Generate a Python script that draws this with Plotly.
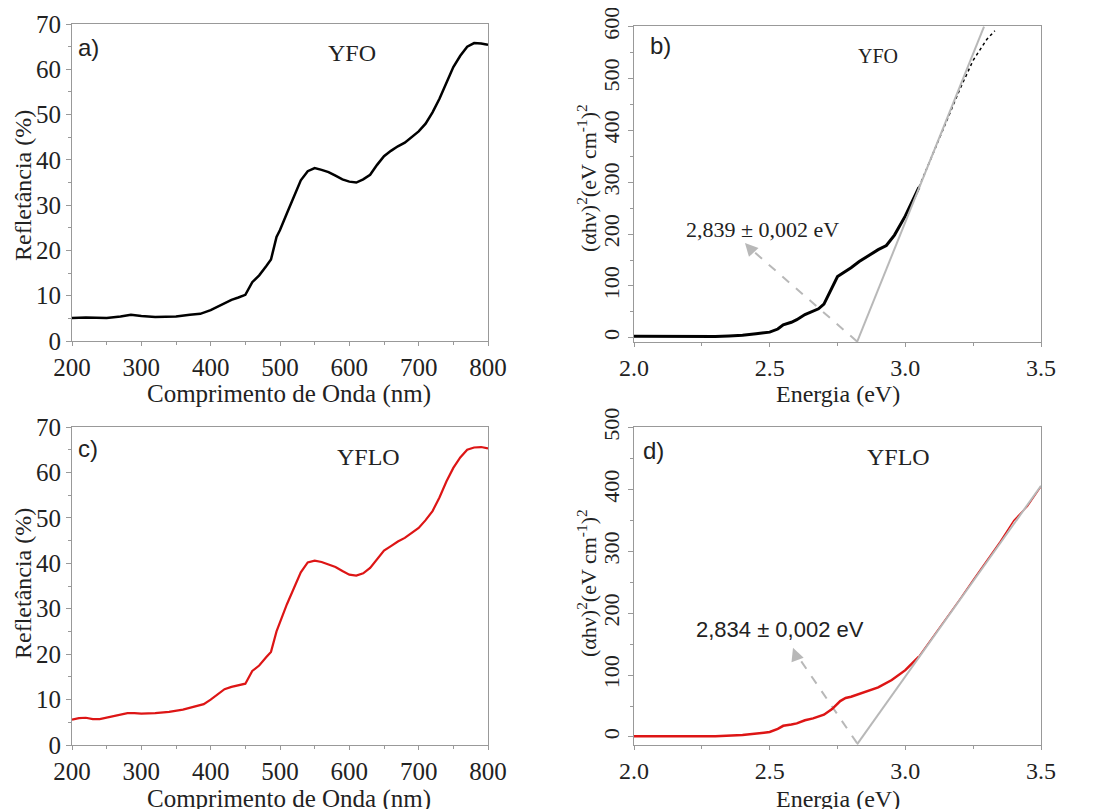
import plotly.graph_objects as go

# a) YFO reflectance
wl_yfo = [200, 220, 250, 270, 285, 300, 320, 350, 370, 385, 400, 420, 430, 440, 450, 460, 470,
          480, 487, 495, 500, 510, 520, 530, 540, 550, 560, 570, 580, 590, 600, 610, 620, 630,
          640, 650, 660, 670, 680, 690, 700, 710, 720, 730, 740, 750, 760, 770, 780, 790, 800]
refl_yfo = [5.1, 5.2, 5.1, 5.4, 5.8, 5.5, 5.3, 5.4, 5.8, 6.0, 6.8, 8.3, 9.1, 9.6, 10.2, 13.0, 14.5,
            16.5, 18.0, 23.0, 24.5, 28.2, 32.0, 35.5, 37.5, 38.2, 37.8, 37.3, 36.5, 35.7, 35.2, 35.0,
            35.7, 36.7, 38.9, 40.8, 42.0, 43.0, 43.8, 45.0, 46.3, 48.0, 50.5, 53.5, 57.0, 60.5, 63.0,
            65.0, 65.8, 65.7, 65.4]

# c) YFLO reflectance
wl_yflo = [200, 210, 220, 230, 240, 250, 260, 270, 280, 290, 300, 320, 340, 360, 380, 390, 400,
           410, 420, 430, 440, 450, 460, 470, 480, 487, 495, 500, 510, 520, 530, 540, 550, 560,
           570, 580, 590, 600, 610, 620, 630, 640, 650, 660, 670, 680, 690, 700, 710, 720, 730,
           740, 750, 760, 770, 780, 790, 800]
refl_yflo = [5.6, 5.9, 6.0, 5.7, 5.7, 6.0, 6.3, 6.7, 7.0, 7.0, 6.9, 7.0, 7.3, 7.8, 8.5, 9.0, 10.0,
             11.2, 12.3, 12.8, 13.1, 13.5, 16.3, 17.5, 19.3, 20.5, 25.0, 27.0, 31.0, 34.5, 38.0,
             40.2, 40.6, 40.3, 39.8, 39.2, 38.3, 37.5, 37.3, 37.8, 39.0, 41.0, 42.8, 43.8, 44.8,
             45.6, 46.6, 47.8, 49.5, 51.5, 54.5, 58.0, 61.0, 63.3, 65.0, 65.5, 65.6, 65.3]

# b) YFO Tauc plot (dense part, then the sparse top that sits on the fit)
en_yfo = [2.0, 2.1, 2.2, 2.3, 2.35, 2.4, 2.45, 2.5, 2.53, 2.55, 2.58, 2.6, 2.63, 2.65, 2.68, 2.7,
          2.72, 2.74, 2.75, 2.77, 2.8, 2.83, 2.86, 2.9, 2.93, 2.96, 3.0, 3.05]
tauc_yfo = [3, 3, 2, 2.5, 3.5, 5, 8, 11, 17, 25, 30, 35, 45, 50, 56, 65, 85, 105, 118, 125, 135,
            147, 157, 170, 178, 198, 235, 290]
en_yfo_top = [3.05, 3.1, 3.15, 3.2, 3.25, 3.28, 3.3, 3.33]
tauc_yfo_top = [290, 352, 415, 478, 535, 558, 575, 592]
fit_yfo_en = [2.822, 3.29]
fit_yfo_val = [-8, 600]
arrow_yfo_en = [2.822, 2.42]
arrow_yfo_val = [-7, 176]

# d) YFLO Tauc plot
en_yflo = [2.0, 2.2, 2.3, 2.4, 2.45, 2.5, 2.53, 2.55, 2.58, 2.6, 2.63, 2.66, 2.7, 2.73, 2.76,
           2.78, 2.8, 2.85, 2.9, 2.95, 3.0, 3.05]
tauc_yflo = [1, 0.5, 1, 3, 5, 8, 13, 18, 20, 22, 27, 30, 36, 45, 58, 63, 65, 72, 80, 92, 108, 130]
en_yflo_top = [3.05, 3.1, 3.15, 3.2, 3.25, 3.3, 3.35, 3.4, 3.45, 3.5]
tauc_yflo_top = [130, 160, 192, 222, 254, 285, 316, 350, 373, 405]
fit_yflo_en = [2.822, 3.5]
fit_yflo_val = [-12, 406]
arrow_yflo_en = [2.822, 2.592]
arrow_yflo_val = [-10, 138]

SERIF = "Liberation Serif"
SANS = "Liberation Sans"
INK = "#222222"
FRAME = "#999999"
RED = "#dd1515"
GREY = "#b8b8b8"

# the page puts the figure 8px in from the window corner
W, H, OFF = 1085, 801, 8


def px(x, y):
    return (x - OFF) / W, 1 - (y - OFF) / H


def line(x, y, ax, color, width, dash="solid"):
    return go.Scatter(x=x, y=y, mode="lines", line=dict(color=color, width=width, dash=dash),
                      xaxis="x" + ax, yaxis="y" + ax)


fig = go.Figure()
fig.add_trace(line(wl_yfo, refl_yfo, "", "black", 2.5))
fig.add_trace(line(arrow_yfo_en, arrow_yfo_val, "2", GREY, 2, "dash"))
fig.add_trace(line(en_yfo, tauc_yfo, "2", "black", 3))
fig.add_trace(line(en_yfo_top, tauc_yfo_top, "2", "black", 1.5, "dot"))
fig.add_trace(line(fit_yfo_en, fit_yfo_val, "2", GREY, 2))
fig.add_trace(line(wl_yflo, refl_yflo, "3", RED, 2.2))
fig.add_trace(line(arrow_yflo_en, arrow_yflo_val, "4", GREY, 2, "dash"))
fig.add_trace(line(en_yflo, tauc_yflo, "4", RED, 2.5))
fig.add_trace(line(en_yflo_top, tauc_yflo_top, "4", RED, 1.5))
fig.add_trace(line(fit_yflo_en, fit_yflo_val, "4", GREY, 2))


def axis(domain, rng, dtick, minor, anchor, size=25, tickangle=None, fmt=None, ticklen=5):
    d = dict(domain=domain, range=rng, dtick=dtick, tick0=0, anchor=anchor, automargin=False,
             showline=True, linecolor=FRAME, linewidth=1.2, mirror=True,
             ticks="outside", ticklen=ticklen, tickcolor=FRAME, showgrid=False, zeroline=False,
             ticklabeloverflow="allow",
             minor=dict(dtick=minor, ticks="outside", ticklen=3, tickcolor=FRAME),
             tickfont=dict(family=SERIF, size=size, color=INK))
    if tickangle is not None:
        d["tickangle"] = tickangle
    if fmt:
        d["tickformat"] = fmt
    return d


def xdom(a, b):
    return [px(a, 0)[0], px(b, 0)[0]]


def ydom(top, bottom):
    return [px(0, bottom)[1], px(0, top)[1]]


xa = xdom(72, 488)
xb = xdom(634, 1041)

fig.update_layout(
    width=W, height=H, showlegend=False, template="none",
    paper_bgcolor="white", plot_bgcolor="white",
    margin=dict(l=0, r=0, t=0, b=0),
    xaxis=axis(xa, [200, 800], 100, 50, "y", ticklen=4),
    yaxis=axis(ydom(24, 341), [0, 70.01], 10, 5, "x"),
    xaxis2=axis(xb, [2.0, 3.5], 0.5, 0.25, "y2", size=24, fmt=".1f", ticklen=4),
    yaxis2=axis(ydom(26, 342), [-8, 601], 100, 50, "x2", size=22, tickangle=-90),
    xaxis3=axis(xa, [200, 800], 100, 50, "y3", ticklen=4),
    yaxis3=axis(ydom(427, 745), [0, 70.01], 10, 5, "x3"),
    xaxis4=axis(xb, [2.0, 3.5], 0.5, 0.25, "y4", size=24, fmt=".1f", ticklen=4),
    yaxis4=axis(ydom(427, 745), [-13, 501], 100, 50, "x4", size=22, tickangle=-90),
)

ytauc = "(αhν)<sup>2</sup>(eV cm<sup>-1</sup>)<sup>2</sup>"
# axis titles and panel letters, placed by page pixel (centre)
page_notes = [
    ("Comprimento de Onda (nm)", 289, 394, 0, SERIF, 25),
    ("Refletância (%)", 23, 186, -90, SERIF, 24),
    ("Energia (eV)", 838, 394, 0, SERIF, 24),
    (ytauc, 587, 178, -90, SERIF, 22),
    ("Comprimento de Onda (nm)", 289, 799, 0, SERIF, 25),
    ("Refletância (%)", 23, 584, -90, SERIF, 24),
    ("Energia (eV)", 838, 799, 0, SERIF, 24),
    (ytauc, 587, 583, -90, SERIF, 22),
    ("a)", 88, 47, 0, SANS, 24),
    ("b)", 660, 45, 0, SANS, 24),
    ("c)", 88, 448, 0, SANS, 24),
    ("d)", 653, 450, 0, SANS, 24),
]
for text, x, y, ang, fam, size in page_notes:
    fx, fy = px(x, y)
    fig.add_annotation(text=text, x=fx, y=fy, xref="paper", yref="paper", showarrow=False,
                       textangle=ang, xanchor="center", yanchor="middle",
                       font=dict(family=fam, size=size, color=INK))

data_notes = [
    dict(text="YFO", x=604, y=63.6, xref="x", yref="y", font=dict(family=SERIF, size=24)),
    dict(text="YFLO", x=627, y=63.4, xref="x3", yref="y3", font=dict(family=SERIF, size=24)),
    dict(text="YFO", x=2.90, y=544, xref="x2", yref="y2", font=dict(family=SERIF, size=20)),
    dict(text="YFLO", x=2.973, y=452, xref="x4", yref="y4", font=dict(family=SERIF, size=24)),
    dict(text="2,839 ± 0,002 eV", x=2.475, y=208, xref="x2", yref="y2", font=dict(family=SERIF, size=22)),
    dict(text="2,834 ± 0,002 eV", x=2.538, y=173, xref="x4", yref="y4", font=dict(family=SANS, size=22)),
]
for n in data_notes:
    n["font"]["color"] = INK
    fig.add_annotation(showarrow=False, **n)

# arrowheads at the end of the dashed guide lines
fig.add_annotation(x=2.409, y=183, ax=arrow_yfo_en[1] + 0.01, ay=arrow_yfo_val[1] - 5,
                   xref="x2", yref="y2", axref="x2", ayref="y2", showarrow=True,
                   arrowhead=2, arrowsize=1.3, arrowwidth=2, arrowcolor=GREY, text="")
fig.add_annotation(x=2.586, y=144, ax=arrow_yflo_en[1] + 0.006, ay=arrow_yflo_val[1] - 8,
                   xref="x4", yref="y4", axref="x4", ayref="y4", showarrow=True,
                   arrowhead=2, arrowsize=1.3, arrowwidth=2, arrowcolor=GREY, text="")

fig.write_html("out.html")
